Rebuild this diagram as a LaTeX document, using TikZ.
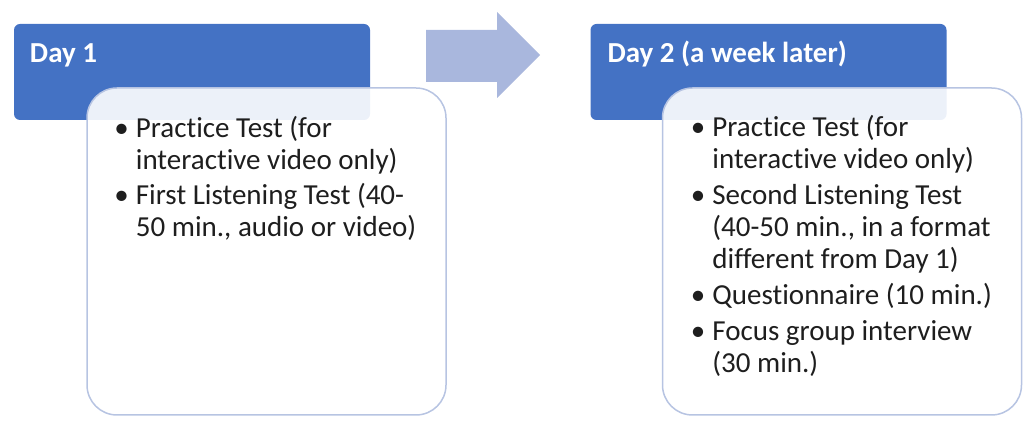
\documentclass[tikz,border=0pt]{standalone}
\usepackage{fontspec}
\setmainfont{Carlito}[Ligatures=NoCommon]
\usepackage{tikz}
\usetikzlibrary{positioning}
\definecolor{headblue}{HTML}{4472C4}
\definecolor{arrowblue}{HTML}{A9B7DD}
\definecolor{boxline}{HTML}{B7C4E2}
\definecolor{bodytext}{HTML}{1E1E1E}

\begin{document}
\begin{tikzpicture}[x=1pt,y=1pt,
    headbox/.style={fill=headblue, rounded corners=6pt, minimum width=356pt, minimum height=96pt, inner sep=0pt},
    headtext/.style={text=white, font=\fontsize{29}{34}\selectfont\bfseries, inner sep=0pt, anchor=base west},
    bodybox/.style={draw=boxline, line width=1.5pt, fill=white, fill opacity=0.9, rounded corners=30pt, minimum width=359pt, minimum height=327pt, inner sep=0pt},
    bodytext/.style={text=bodytext, font=\fontsize{29}{32}\selectfont, inner sep=0pt, anchor=base west},]
    \useasboundingbox (0,0) rectangle (1029,423);
    % nodes
    \node[headbox]      (day1head)      at (192,351)     {};
    \node[bodybox]      (day1body)      at (266.5,171.5) {};
    \node[headbox]      (day2head)      at (768.5,351)   {};
    \node[bodybox]      (day2body)      at (842,171.5)   {};
    \node[headtext]     (day1title)     at ([xshift=16pt,yshift=-39pt]day1head.north west) {Day 1};
    \node[headtext]     (day2title)     at ([xshift=17pt,yshift=-39pt]day2head.north west) {Day 2 (a week later)};
    \node[bodytext]     (day1list)      at ([xshift=28pt,yshift=-50pt]day1body.north west)
        {\begin{tabular}[t]{@{}l@{\hspace{7pt}}l@{}}
            \textbullet & Practice Test (for\\
                        & interactive video only)\\[3pt]
            \textbullet & First Listening Test (40-\\
                        & 50 min., audio or video)
        \end{tabular}};
    \node[bodytext]     (day2list)      at ([xshift=29pt,yshift=-49pt]day2body.north west)
        {\begin{tabular}[t]{@{}l@{\hspace{7pt}}l@{}}
            \textbullet & Practice Test (for\\
                        & interactive video only)\\[4pt]
            \textbullet & Second Listening Test\\
                        & (40-50 min., in a format\\
                        & different from Day 1)\\[4pt]
            \textbullet & Questionnaire (10 min.)\\[4pt]
            \textbullet & Focus group interview\\
                        & (30 min.)
        \end{tabular}};
    % arrow
    \fill[arrowblue] (426,393) -- (497,393) -- (497,411) -- (540,368) -- (497,325) -- (497,341) -- (426,341) -- cycle;
\end{tikzpicture}
\end{document}
